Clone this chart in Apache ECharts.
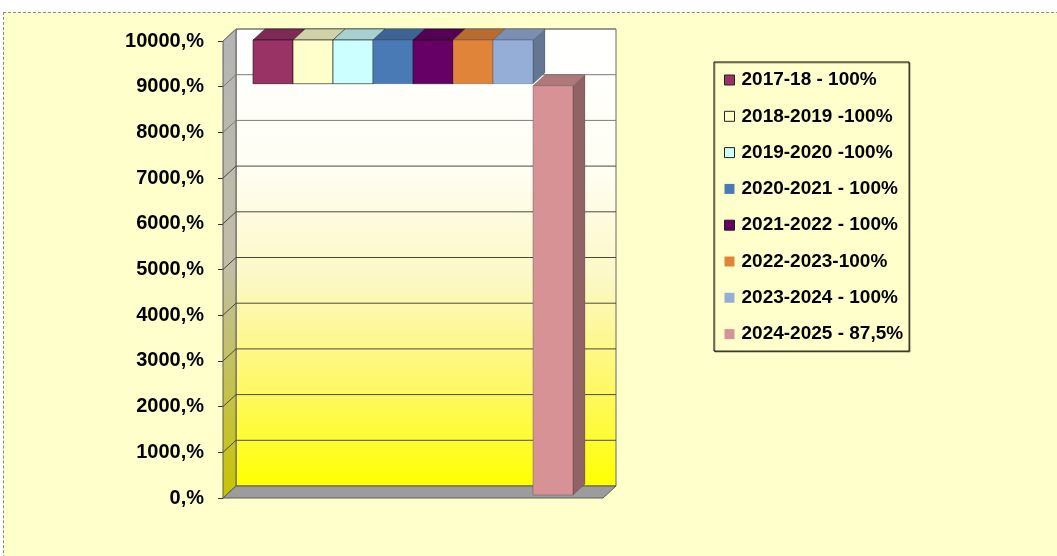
<!DOCTYPE html>
<html>
<head>
<meta charset="utf-8">
<script src="https://cdn.jsdelivr.net/npm/echarts@6/dist/echarts.min.js"></script>
<style>
html,body{margin:0;padding:0;background:#ffffff;width:1057px;height:556px;overflow:hidden;}
#bg{position:absolute;left:3px;top:12px;width:1100px;height:600px;background:#ffffcc;border-top:1px dashed #8a8a8a;border-left:1px dashed #8a8a8a;}
#chart{position:absolute;left:0;top:0;width:1057px;height:556px;}
</style>
</head>
<body>
<div id="bg"></div>
<div id="chart"></div>
<script>
// ---- data ----
const categories = [''];
const seriesNames = ['2017-18 - 100%', '2018-2019 -100%', '2019-2020 -100%', '2020-2021 - 100%', '2021-2022 - 100%', '2022-2023-100%', '2023-2024 - 100%', '2024-2025 - 87,5%'];
const barBases = [9000, 9000, 9000, 9000, 9000, 9000, 9000, 0];
const barTops = [10000, 10000, 10000, 10000, 10000, 10000, 10000, 9000];
const yTicks = [0, 1000, 2000, 3000, 4000, 5000, 6000, 7000, 8000, 9000, 10000];

// ---- style ----
const barColors = ['#993366', '#ffffcc', '#ccffff', '#4a7ab5', '#660066', '#e0843a', '#95aed8', '#d69294'];
const bordered = [true, true, true, false, true, false, false, false];
const DX = 13, DY = -12;   // wall depth
const BDX = 12, BDY = -11; // bar depth
const FONT = "'Liberation Sans', Arial, sans-serif";

function shade(hex, f) {
  const n = parseInt(hex.slice(1), 16);
  const r = Math.round(((n >> 16) & 255) * f), g = Math.round(((n >> 8) & 255) * f), b = Math.round((n & 255) * f);
  return 'rgb(' + r + ',' + g + ',' + b + ')';
}

function wallRender(params, api) {
  const cs = params.coordSys;
  const L = cs.x, R = cs.x + cs.width, T = cs.y, B = cs.y + cs.height;
  const children = [];
  children.push({
    type: 'rect',
    shape: { x: L + DX, y: T + DY, width: cs.width, height: cs.height },
    style: {
      fill: new echarts.graphic.LinearGradient(0, 0, 0, 1, [
        { offset: 0, color: '#ffffff' },
        { offset: 0.3, color: '#fffef4' },
        { offset: 0.55, color: '#fcf8c4' },
        { offset: 0.78, color: '#fef868' },
        { offset: 1, color: '#ffff00' }
      ]),
      stroke: '#6a6a6a', lineWidth: 1
    }
  });
  children.push({
    type: 'polygon',
    shape: { points: [[L, T], [L + DX, T + DY], [L + DX, B + DY], [L, B]] },
    style: {
      fill: new echarts.graphic.LinearGradient(0, 0, 0, 1, [
        { offset: 0, color: '#b4b4b4' },
        { offset: 0.5, color: '#c0bea8' },
        { offset: 1, color: '#c8c400' }
      ]),
      stroke: '#5a5a5a', lineWidth: 1
    }
  });
  children.push({
    type: 'polygon',
    shape: { points: [[L, B], [R, B], [R + DX, B + DY], [L + DX, B + DY]] },
    style: { fill: '#9c9c9c', stroke: '#5a5a5a', lineWidth: 1 }
  });
  yTicks.forEach(function (v) {
    if (v === 0) return;
    const y = api.coord([0, v])[1];
    const col = v >= 8000 ? '#7a7a7a' : '#4a4a3a';
    children.push({
      type: 'polyline',
      shape: { points: [[L, y], [L + DX, y + DY], [R + DX, y + DY]] },
      style: { stroke: col, lineWidth: 1, fill: null }
    });
  });
  return { type: 'group', children: children };
}

function barRender(i) {
  return function (params, api) {
    const base = api.value(1), top = api.value(2);
    const band = api.size([1, 0])[0];
    const total = band * 0.842;
    const w = total / seriesNames.length;
    const cx = api.coord([0, 0])[0];
    const x0 = cx - total / 2 + i * w, x1 = x0 + w;
    const yT = api.coord([0, top])[1] - 1;
    const yB = api.coord([0, base])[1] - 3;
    const c = barColors[i];
    const edge = bordered[i] ? 'rgba(20,20,20,0.75)' : 'rgba(40,40,60,0.35)';
    return {
      type: 'group',
      children: [
        { type: 'polygon', shape: { points: [[x1, yT], [x1 + BDX, yT + BDY], [x1 + BDX, yB + BDY], [x1, yB]] },
          style: { fill: shade(c, 0.68), stroke: edge, lineWidth: 0.6 } },
        { type: 'polygon', shape: { points: [[x0, yT], [x0 + BDX, yT + BDY], [x1 + BDX, yT + BDY], [x1, yT]] },
          style: { fill: shade(c, 0.82), stroke: edge, lineWidth: 0.6 } },
        { type: 'rect', shape: { x: x0, y: yT, width: w, height: yB - yT },
          style: { fill: c, stroke: edge, lineWidth: 0.8 } }
      ]
    };
  };
}

const series = [{
  type: 'custom', name: '__walls', silent: true, z: 1,
  renderItem: wallRender, data: [[0]], encode: { x: 0 }
}];
seriesNames.forEach(function (n, i) {
  series.push({
    type: 'custom', name: n, z: 2 + i,
    itemStyle: { color: barColors[i] },
    renderItem: barRender(i),
    encode: { x: 0, y: [1, 2] },
    data: [[0, barBases[i], barTops[i]]]
  });
});

const chart = echarts.init(document.getElementById('chart'), null, { renderer: 'canvas' });
chart.setOption({
  animation: false,
  backgroundColor: 'transparent',
  grid: { left: 223, right: 454, top: 41, bottom: 58, containLabel: false },
  xAxis: { type: 'category', data: categories, show: false, boundaryGap: true },
  yAxis: {
    type: 'value', min: 0, max: 10000, interval: 1000,
    axisLine: { show: true, lineStyle: { color: '#333333', width: 1 } },
    axisTick: { show: true, length: 5, lineStyle: { color: '#333333' } },
    splitLine: { show: false },
    axisLabel: { formatter: function (v) { return v + ',%'; }, fontSize: 20, fontWeight: 'bold', color: '#000', fontFamily: FONT, margin: 19 }
  },
  legend: {
    orient: 'vertical', left: 714, top: 62,
    padding: [8, 6, 7, 10], itemGap: 16.3,
    itemWidth: 10, itemHeight: 10, icon: 'rect',
    backgroundColor: '#ffffcc', borderColor: '#000', borderWidth: 1,
    shadowColor: 'rgba(0,0,0,0.35)', shadowOffsetX: 1, shadowOffsetY: 1, shadowBlur: 0,
    textStyle: { fontSize: 19, fontWeight: 'bold', color: '#000', fontFamily: FONT, lineHeight: 20, padding: [0, 0, 0, 2] },
    data: seriesNames.map(function (n, i) {
      return { name: n, itemStyle: bordered[i] ? { borderColor: '#222', borderWidth: 1 } : { borderWidth: 0 } };
    })
  },
  series: series
});
</script>
</body>
</html>
